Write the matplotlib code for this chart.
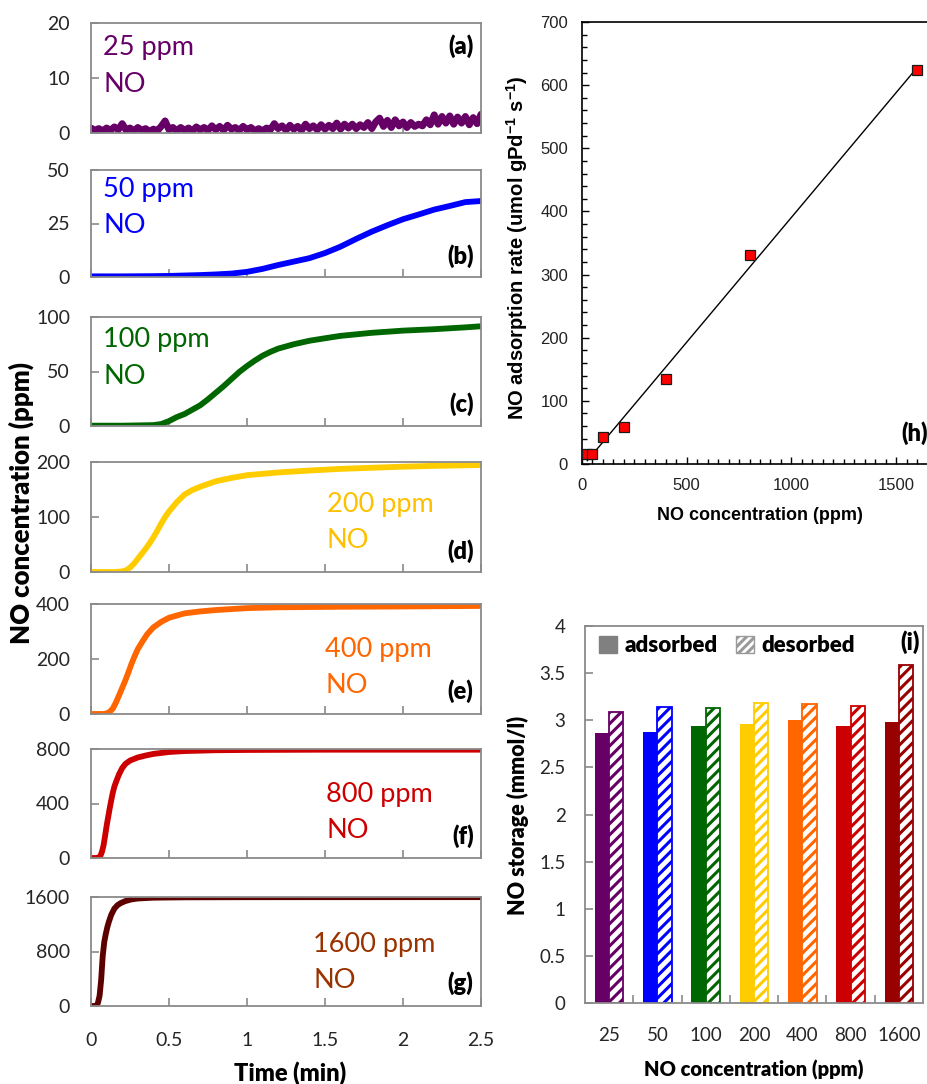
import numpy as np
import matplotlib
matplotlib.use("Agg")
import matplotlib.pyplot as plt
from matplotlib.patches import Patch
from matplotlib.ticker import MultipleLocator, FuncFormatter, FixedLocator

# ---------------------------------------------------------------------------
# Breakthrough curves: outlet NO concentration (ppm) vs time (min)
# ---------------------------------------------------------------------------
time_25 = np.linspace(0.0, 2.5, 101)
no_25 = [0.9, 0.5, 0.8, 0.4, 0.9, 0.5, 1.1, 0.6, 1.7, 0.5,
         0.9, 0.4, 1.0, 0.5, 0.8, 0.3, 0.7, 0.4, 1.2, 2.2,
         0.6, 1.0, 0.4, 1.0, 0.5, 0.9, 0.4, 1.1, 0.6, 1.0,
         0.5, 1.3, 0.6, 1.2, 0.5, 1.4, 0.7, 1.0, 0.5, 1.2,
         0.6, 1.0, 0.4, 0.8, 0.4, 0.9, 0.6, 1.7, 0.8, 1.3,
         0.5, 1.4, 0.7, 1.2, 0.5, 1.6, 0.8, 1.3, 0.6, 1.5,
         0.7, 1.4, 0.8, 1.8, 0.7, 1.6, 0.9, 1.6, 0.8, 1.5,
         1.0, 1.9, 0.8, 2.0, 2.7, 1.2, 2.3, 1.0, 2.4, 1.3,
         2.0, 1.0, 1.9, 1.2, 1.6, 1.3, 2.4, 1.5, 3.3, 1.6,
         3.0, 1.8, 3.1, 1.6, 2.9, 1.8, 3.0, 1.5, 2.8, 1.7, 3.4]

time_50 = [0, 0.2, 0.4, 0.5, 0.6, 0.7, 0.8, 0.9, 1.0, 1.1, 1.2, 1.3, 1.4,
           1.5, 1.6, 1.7, 1.8, 1.9, 2.0, 2.1, 2.2, 2.3, 2.4, 2.5]
no_50 = [0.3, 0.3, 0.4, 0.5, 0.7, 0.9, 1.2, 1.6, 2.4, 3.8, 5.6, 7.2, 8.8,
         11.2, 14.2, 17.8, 21.2, 24.2, 27.0, 29.2, 31.5, 33.2, 35.0, 35.5]

time_100 = [0, 0.2, 0.4, 0.45, 0.5, 0.55, 0.6, 0.65, 0.7, 0.75, 0.8, 0.85,
            0.9, 0.95, 1.0, 1.05, 1.1, 1.15, 1.2, 1.3, 1.4, 1.5, 1.6, 1.8,
            2.0, 2.2, 2.4, 2.5]
no_100 = [0.3, 0.3, 0.8, 1.8, 4.5, 8.2, 11.0, 15.0, 19.0, 24.5, 30.5, 36.5,
          43.0, 49.5, 55.0, 60.0, 64.5, 68.0, 71.0, 75.0, 78.2, 80.5, 82.7,
          85.5, 87.5, 88.8, 90.5, 91.5]

time_200 = [0, 0.15, 0.2, 0.225, 0.25, 0.275, 0.3, 0.325, 0.35, 0.375, 0.4,
            0.425, 0.45, 0.475, 0.5, 0.55, 0.6, 0.65, 0.7, 0.8, 0.9, 1.0,
            1.2, 1.4, 1.6, 1.8, 2.0, 2.2, 2.5]
no_200 = [0, 0, 1, 3, 8, 15, 24, 33, 42, 52, 63, 75, 88, 100, 110, 127, 141,
          149, 155, 165, 171, 176, 181, 184.5, 187.5, 189.5, 191.5, 193, 194.5]

time_400 = [0, 0.08, 0.1, 0.12, 0.14, 0.16, 0.18, 0.2, 0.22, 0.24, 0.26,
            0.28, 0.3, 0.33, 0.36, 0.4, 0.45, 0.5, 0.6, 0.7, 0.8, 1.0, 1.2,
            1.6, 2.0, 2.5]
no_400 = [0, 0, 2, 8, 20, 42, 68, 95, 122, 152, 183, 211, 236, 264, 290,
          315, 335, 350, 366, 373, 378, 385, 388, 390, 391, 393]

time_800 = [0, 0.045, 0.06, 0.07, 0.08, 0.09, 0.1, 0.11, 0.12, 0.13, 0.14,
            0.15, 0.165, 0.18, 0.2, 0.22, 0.25, 0.3, 0.35, 0.4, 0.5, 0.6,
            0.8, 1.0, 1.5, 2.5]
no_800 = [0, 0, 15, 45, 90, 160, 235, 300, 365, 425, 480, 525, 572, 615,
          660, 690, 715, 738, 752, 764, 778, 785, 791, 793, 795, 795]

time_1600 = [0, 0.035, 0.045, 0.055, 0.065, 0.075, 0.085, 0.095, 0.105,
             0.115, 0.13, 0.15, 0.17, 0.19, 0.22, 0.26, 0.3, 0.4, 0.6, 1.0,
             2.5]
no_1600 = [0, 0, 50, 150, 380, 730, 940, 1060, 1160, 1240, 1340, 1430, 1480,
           1510, 1540, 1565, 1578, 1590, 1595, 1597, 1598]

# ---------------------------------------------------------------------------
# Adsorption rate vs feed concentration
# ---------------------------------------------------------------------------
feed_ppm = [25, 50, 100, 200, 400, 800, 1600]
ads_rate = [16, 16, 42, 59, 134, 331, 624]

# ---------------------------------------------------------------------------
# NO storage per feed concentration
# ---------------------------------------------------------------------------
conc_labels = ["25", "50", "100", "200", "400", "800", "1600"]
adsorbed = [2.86, 2.88, 2.94, 2.96, 3.00, 2.94, 2.98]
desorbed = [3.09, 3.145, 3.13, 3.18, 3.17, 3.155, 3.585]

# ---------------------------------------------------------------------------
W, H = 928, 1084
fig = plt.figure(figsize=(W / 100, H / 100), dpi=100)
plt.rcParams["hatch.linewidth"] = 2.2

SANS = "Lato"
ARIAL = "Liberation Sans"
spine_gray = "#8a8a8a"
ink = "#262626"

def add_axes_px(left, top, right, bottom):
    return fig.add_axes([left / W, 1 - bottom / H, (right - left) / W, (bottom - top) / H])

fmt_g = FuncFormatter(lambda v, p: f"{v:g}")

curves = [
    (time_25, no_25, 20, "25 ppm", "#660066", "#660066", "(a)"),
    (time_50, no_50, 50, "50 ppm", "#0000FF", "#0000FF", "(b)"),
    (time_100, no_100, 100, "100 ppm", "#006600", "#006600", "(c)"),
    (time_200, no_200, 200, "200 ppm", "#FFCC00", "#FFC000", "(d)"),
    (time_400, no_400, 400, "400 ppm", "#FF6600", "#FF6600", "(e)"),
    (time_800, no_800, 800, "800 ppm", "#CC0000", "#CC0000", "(f)"),
    (time_1600, no_1600, 1600, "1600 ppm", "#5C0000", "#993300", "(g)"),
]

# panel frames in pixels (top, bottom) and text placement (axes fractions)
frames = [(23, 133), (170, 277), (317, 426), (462, 572), (604, 714), (749, 858), (897, 1006)]
line_w = [5.0, 4.2, 4.2, 4.2, 4.2, 4.2, 4.2]
text_x = [0.031, 0.031, 0.031, 0.604, 0.601, 0.603, 0.570]
conc_base = [0.709, 0.748, 0.722, 0.548, 0.515, 0.511, 0.498]
no_base = [0.375, 0.408, 0.383, 0.215, 0.188, 0.181, 0.162]
letter_y = [0.793, 0.198, 0.200, 0.193, 0.211, 0.204, 0.208]

for i, (t, v, ymax, conc_txt, lc, tc, letter) in enumerate(curves):
    top, bottom = frames[i]
    ax = add_axes_px(91, top, 481, bottom)
    ax.plot(t, v, color=lc, lw=line_w[i], solid_joinstyle="round", solid_capstyle="round")
    ax.set_xlim(0, 2.5)
    ax.set_ylim(0, ymax)
    ax.set_yticks([0, ymax / 2, ymax])
    ax.set_xticks([0, 0.5, 1, 1.5, 2, 2.5])
    ax.xaxis.set_major_formatter(fmt_g)
    ax.yaxis.set_major_formatter(fmt_g)
    ax.tick_params(axis="both", direction="in", length=6, width=1.2, color=spine_gray,
                   labelsize=14, labelcolor=ink)
    ax.tick_params(axis="y", pad=15)
    ax.tick_params(axis="x", pad=19)
    for lab in ax.get_xticklabels() + ax.get_yticklabels():
        lab.set_family(SANS)
    if i < len(curves) - 1:
        ax.tick_params(axis="x", labelbottom=False)
    for s in ax.spines.values():
        s.set_color(spine_gray)
        s.set_linewidth(1.3)
    ax.text(text_x[i], conc_base[i], conc_txt, transform=ax.transAxes, color=tc,
            fontsize=19.5, family=SANS, va="baseline", ha="left")
    ax.text(text_x[i], no_base[i], "NO", transform=ax.transAxes, color=tc,
            fontsize=19.5, family=SANS, va="baseline", ha="left")
    ax.text(0.981, letter_y[i], letter, transform=ax.transAxes, color="black",
            fontsize=17, family=SANS, weight="heavy", va="center", ha="right")

fig.text(21 / W, 1 - 503 / H, "NO concentration (ppm)", rotation=90, ha="center",
         va="center", fontsize=18.5, weight="heavy", family=SANS)
fig.text(290 / W, 1 - 1073 / H, "Time (min)", ha="center", va="center",
         fontsize=17, weight="heavy", family=SANS)

# ---------------------------------------------------------------------------
# (h) adsorption rate
# ---------------------------------------------------------------------------
axh = add_axes_px(582, 22, 938, 464)
slope, intercept = np.polyfit(feed_ppm, ads_rate, 1)
x_fit = np.array([min(feed_ppm), max(feed_ppm)])
axh.plot(x_fit, slope * x_fit + intercept, color="black", lw=1.0, zorder=2)
axh.plot(feed_ppm, ads_rate, "s", ms=7.5, mfc="#FF0000", mec="#1a1a1a", mew=0.9,
         zorder=3, clip_on=False)
axh.set_xlim(0, 1700)
axh.set_ylim(0, 700)
axh.xaxis.set_major_locator(MultipleLocator(500))
axh.xaxis.set_minor_locator(MultipleLocator(50))
axh.yaxis.set_major_locator(MultipleLocator(100))
axh.yaxis.set_minor_locator(MultipleLocator(20))
axh.tick_params(which="both", direction="in", top=False, right=False, color="black",
                width=1.0, labelsize=12, labelcolor="#222222", pad=10)
axh.tick_params(which="major", length=5)
axh.tick_params(which="minor", length=3.5)
for lab in axh.get_xticklabels() + axh.get_yticklabels():
    lab.set_family(ARIAL)
for s in axh.spines.values():
    s.set_color("black")
    s.set_linewidth(1.2)
axh.text(0.972, 0.070, "(h)", transform=axh.transAxes, fontsize=17, weight="heavy",
         family=SANS, ha="right", va="center")

plt.rcParams["mathtext.fontset"] = "custom"
plt.rcParams["mathtext.rm"] = ARIAL
plt.rcParams["mathtext.bf"] = ARIAL + ":bold"
fig.text(517 / W, 1 - 248 / H,
         r"NO adsorption rate (umol gPd$^{\mathbf{-1}}$ s$^{\mathbf{-1}}$)",
         rotation=90, ha="center", va="center", fontsize=14.5, weight="bold",
         family=ARIAL)
fig.text(760 / W, 1 - 515 / H, "NO concentration (ppm)", ha="center", va="center",
         fontsize=13, weight="bold", family=ARIAL)

# ---------------------------------------------------------------------------
# (i) NO storage
# ---------------------------------------------------------------------------
bar_colors = ["#660066", "#0000FF", "#006600", "#FFCC00", "#FF6600", "#CC0000", "#990000"]
axi = add_axes_px(585, 626, 923, 1003)
xpos = np.arange(len(conc_labels))
bw = 0.296
axi.bar(xpos - bw / 2, adsorbed, bw, color=bar_colors, linewidth=0)
axi.bar(xpos + bw / 2, desorbed, bw, color="white", edgecolor=bar_colors,
        hatch="///", linewidth=1.3)
axi.set_xlim(-0.5, len(conc_labels) - 0.5)
axi.set_ylim(0, 4)
axi.yaxis.set_major_locator(MultipleLocator(0.5))
axi.yaxis.set_major_formatter(fmt_g)
axi.set_xticks(xpos)
axi.set_xticklabels(conc_labels)
axi.xaxis.set_minor_locator(FixedLocator(xpos[:-1] + 0.5))
axi.tick_params(axis="x", which="major", length=0, pad=17)
axi.tick_params(axis="x", which="minor", direction="in", length=6, width=1.2,
                color=spine_gray)
axi.tick_params(axis="y", direction="in", length=6, width=1.2, color=spine_gray, pad=14)
axi.tick_params(which="both", labelsize=13.5, labelcolor=ink)
for lab in axi.get_xticklabels() + axi.get_yticklabels():
    lab.set_family(SANS)
for s in axi.spines.values():
    s.set_color(spine_gray)
    s.set_linewidth(1.3)
handles = [Patch(facecolor="#808080", edgecolor="#808080", label="adsorbed"),
           Patch(facecolor="white", edgecolor="#9a9a9a", hatch="////", label="desorbed")]
axi.legend(handles=handles, loc="upper left", bbox_to_anchor=(0.041, 0.975), ncol=2,
           frameon=False, borderpad=0, borderaxespad=0, handlelength=0.8,
           handleheight=0.8, handletextpad=0.36, columnspacing=0.82,
           prop={"family": SANS, "weight": "heavy", "size": 16})
axi.text(0.991, 0.958, "(i)", transform=axi.transAxes, fontsize=17, weight="heavy",
         family=SANS, ha="right", va="center")

fig.text(518 / W, 1 - 815 / H, "NO storage (mmol/l)", rotation=90, ha="center",
         va="center", fontsize=15.5, weight="heavy", family=SANS)
fig.text(754 / W, 1 - 1070 / H, "NO concentration (ppm)", ha="center", va="center",
         fontsize=14.5, weight="heavy", family=SANS)

fig.savefig("out.png", dpi=100)
